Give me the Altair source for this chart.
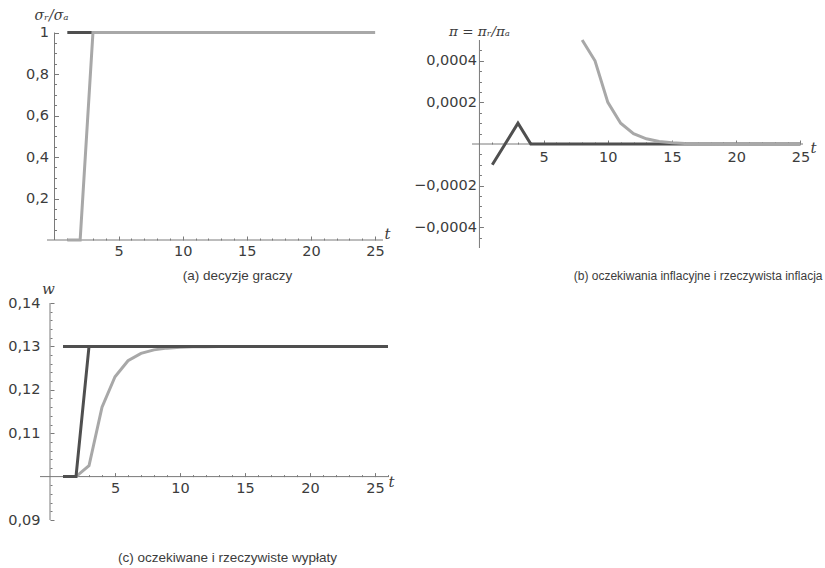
import altair as alt
import pandas as pd

# ---------------- data ----------------
# (a) decyzje graczy
t_a = [1, 2, 3, 4, 5, 6, 7, 8, 9, 10, 11, 12, 13, 14, 15, 16, 17, 18, 19, 20, 21, 22, 23, 24, 25]
a_dark = [1, 1, 1, 1, 1, 1, 1, 1, 1, 1, 1, 1, 1, 1, 1, 1, 1, 1, 1, 1, 1, 1, 1, 1, 1]
a_gray = [0, 0, 1, 1, 1, 1, 1, 1, 1, 1, 1, 1, 1, 1, 1, 1, 1, 1, 1, 1, 1, 1, 1, 1, 1]

# (b) oczekiwania inflacyjne i rzeczywista inflacja
t_b = [1, 2, 3, 4, 5, 6, 7, 8, 9, 10, 11, 12, 13, 14, 15, 16, 17, 18, 19, 20, 21, 22, 23, 24, 25]
b_dark = [-0.0001, 0.0, 0.0001, 0.0, 0.0, 0.0, 0.0, 0.0, 0.0, 0.0, 0.0, 0.0, 0.0,
          0.0, 0.0, 0.0, 0.0, 0.0, 0.0, 0.0, 0.0, 0.0, 0.0, 0.0, 0.0]
t_b_gray = [8, 9, 10, 11, 12, 13, 14, 15, 16, 17, 18, 19, 20, 21, 22, 23, 24, 25]
b_gray = [0.0008, 0.0004, 0.0002, 0.0001, 0.00005, 0.000025, 0.000012, 0.000006,
          0.000003, 0.0000015, 0.0000008, 0.0000004, 0.0000002, 0.0000001, 0.0, 0.0, 0.0, 0.0]

# (c) oczekiwane i rzeczywiste wypłaty
t_c = [1, 2, 3, 4, 5, 6, 7, 8, 9, 10, 11, 12, 13, 14, 15, 16, 17, 18, 19, 20, 21, 22, 23, 24, 25, 26]
c_flat = [0.13, 0.13, 0.13, 0.13, 0.13, 0.13, 0.13, 0.13, 0.13, 0.13, 0.13, 0.13, 0.13,
          0.13, 0.13, 0.13, 0.13, 0.13, 0.13, 0.13, 0.13, 0.13, 0.13, 0.13, 0.13, 0.13]
c_rise = [0.10, 0.10, 0.13, 0.13, 0.13, 0.13, 0.13, 0.13, 0.13, 0.13, 0.13, 0.13, 0.13,
          0.13, 0.13, 0.13, 0.13, 0.13, 0.13, 0.13, 0.13, 0.13, 0.13, 0.13, 0.13, 0.13]
c_gray = [0.100, 0.100, 0.1025, 0.116, 0.123, 0.1267, 0.1284, 0.1292, 0.1296, 0.1298,
          0.1299, 0.1299, 0.1300, 0.1300, 0.1300, 0.1300, 0.1300, 0.1300, 0.1300, 0.1300,
          0.1300, 0.1300, 0.1300, 0.1300, 0.1300, 0.1300]

# tick values
x_major = [5, 10, 15, 20, 25]
a_x_minor = [1, 2, 3, 4, 6, 7, 8, 9, 11, 12, 13, 14, 16, 17, 18, 19, 21, 22, 23, 24]
c_x_minor = a_x_minor + [26]
a_y_major = [0.2, 0.4, 0.6, 0.8, 1.0]
a_y_minor = [0.05, 0.1, 0.15, 0.25, 0.3, 0.35, 0.45, 0.5, 0.55, 0.65, 0.7, 0.75, 0.85, 0.9, 0.95]
b_y_major = [-0.0004, -0.0002, 0.0002, 0.0004]
b_y_minor = [-0.00045, -0.00035, -0.0003, -0.00025, -0.00015, -0.0001, -0.00005,
             0.00005, 0.0001, 0.00015, 0.00025, 0.0003, 0.00035, 0.00045]
c_y_major = [0.09, 0.11, 0.12, 0.13, 0.14]
c_y_minor = [0.092, 0.094, 0.096, 0.098, 0.102, 0.104, 0.106, 0.108, 0.112, 0.114, 0.116,
             0.118, 0.122, 0.124, 0.126, 0.128, 0.132, 0.134, 0.136, 0.138]

captions = ["(a) decyzje graczy",
            "(b) oczekiwania inflacyjne i rzeczywista inflacja",
            "(c) oczekiwane i rzeczywiste wypłaty"]
y_titles = ["σᵣ/σₐ", "π = πᵣ/πₐ", "w"]

# ---------------- style ----------------
W, H = 825, 568
DARK = "#4f4f4f"
GRAY = "#a8a8a8"
AXC = "#7a7a7a"
TXT = "#3c3c3c"
LFONT = "DejaVu Sans"
CFONT = "Liberation Sans"
TFONT = "DejaVu Serif"
TM, TMIN = 4, 2  # tick lengths (drawn inward)


def panel(series, xdom, xrng, ydom, yrng, ycross, xmaj, xmin, ymaj, ymin, yfmt,
          ylabpad, xlabpad, ytitle, ytitle_xy, ytitle_size, xtitle_xy,
          caption, caption_xy, caption_size, caption_align):
    xs = alt.Scale(domain=xdom, range=xrng, nice=False, zero=False, clamp=True)
    ys = alt.Scale(domain=ydom, range=yrng, nice=False, zero=False, clamp=True)
    # pixel position of the crossing axes
    x0 = xrng[0] + (0 - xdom[0]) / (xdom[1] - xdom[0]) * (xrng[1] - xrng[0])
    y0 = yrng[0] + (ycross - ydom[0]) / (ydom[1] - ydom[0]) * (yrng[1] - yrng[0])

    common = dict(domain=False, grid=False, tickColor=AXC, tickWidth=1,
                  labelFont=LFONT, labelFontSize=14.5, labelColor=TXT,
                  labelFlush=False, labelOverlap=False, labelBound=False)
    nolab = {k: v for k, v in common.items() if not k.startswith("label")}

    ax_major = alt.Axis(orient="bottom", offset=(y0 - TM) - H, values=xmaj, tickSize=TM,
                        labelPadding=xlabpad, format="d",
                        title="t", titleFont=TFONT, titleFontStyle="italic",
                        titleFontWeight="normal", titleFontSize=15, titleColor=TXT,
                        titleAngle=0, titleAlign="center", titleBaseline="middle",
                        titleX=xtitle_xy[0], titleY=xtitle_xy[1] - (y0 - TM), **common)
    ax_minor = alt.Axis(orient="bottom", offset=(y0 - TMIN) - H, values=xmin,
                        tickSize=TMIN, labels=False,
                        title=caption, titleFont=CFONT, titleFontWeight="normal",
                        titleFontSize=caption_size, titleColor=TXT, titleAngle=0,
                        titleAlign=caption_align, titleBaseline="middle", titleLimit=1000,
                        titleX=caption_xy[0], titleY=caption_xy[1] - (y0 - TMIN), **nolab)
    ay_major = alt.Axis(orient="left", offset=-(x0 + TM), values=ymaj, tickSize=TM,
                        labelPadding=ylabpad,
                        labelExpr=f"replace(format(datum.value, '{yfmt}'), '.', ',')",
                        title=ytitle, titleFont=TFONT, titleFontStyle="italic",
                        titleFontWeight="normal", titleFontSize=ytitle_size, titleColor=TXT,
                        titleAngle=0, titleAlign="center", titleBaseline="middle",
                        titleLimit=1000,
                        titleX=ytitle_xy[0] - (x0 + TM), titleY=ytitle_xy[1], **common)
    ay_minor = alt.Axis(orient="left", offset=-(x0 + TMIN), values=ymin, tickSize=TMIN,
                        labels=False, title=None, **nolab)

    one = pd.DataFrame({"k": [0]})
    rule_x = alt.Chart(one).mark_rule(color=AXC, strokeWidth=1).encode(
        x=alt.X(datum=xdom[0], type="quantitative", scale=xs, axis=ax_minor),
        x2=alt.X2(datum=xdom[1]),
        y=alt.Y(datum=ycross, type="quantitative", scale=ys, axis=ay_minor),
    )
    rule_y = alt.Chart(one).mark_rule(color=AXC, strokeWidth=1).encode(
        x=alt.X(datum=0, type="quantitative", scale=xs, axis=None),
        y=alt.Y(datum=ydom[0], type="quantitative", scale=ys, axis=None),
        y2=alt.Y2(datum=ydom[1]),
    )
    layers = [rule_x, rule_y]
    for i, (ts, vs, col) in enumerate(series):
        df = pd.DataFrame({"t": ts, "v": vs})
        layers.append(
            alt.Chart(df).mark_line(color=col, strokeWidth=3, strokeCap="butt",
                                    strokeJoin="miter").encode(
                x=alt.X("t:Q", scale=xs, axis=ax_major if i == 0 else None),
                y=alt.Y("v:Q", scale=ys, axis=ay_major if i == 0 else None),
            )
        )
    return alt.layer(*layers).resolve_axis(x="independent", y="independent")


pa = panel(
    series=[(t_a, a_dark, DARK), (t_a, a_gray, GRAY)],
    xdom=[-0.585, 25.62], xrng=[47, 383], ydom=[0, 1], yrng=[240, 32.5], ycross=0,
    xmaj=x_major, xmin=a_x_minor, ymaj=a_y_major, ymin=a_y_minor, yfmt=".1~f",
    ylabpad=6, xlabpad=4, ytitle=y_titles[0], ytitle_xy=(51, 15), ytitle_size=14,
    xtitle_xy=(387, 233),
    caption=captions[0], caption_xy=(237, 275), caption_size=13.5, caption_align="center",
)
pb = panel(
    series=[(t_b, b_dark, DARK), (t_b_gray, b_gray, GRAY)],
    xdom=[-0.58, 25.2], xrng=[472, 803], ydom=[-0.0005, 0.0005], yrng=[248, 40], ycross=0,
    xmaj=x_major, xmin=a_x_minor, ymaj=b_y_major, ymin=b_y_minor, yfmt=".4f",
    ylabpad=3, xlabpad=6, ytitle=y_titles[1], ytitle_xy=(479, 31), ytitle_size=13.5,
    xtitle_xy=(813, 147),
    caption=captions[1], caption_xy=(822, 275), caption_size=12, caption_align="right",
)
pc = panel(
    series=[(t_c, c_gray, GRAY), (t_c, c_flat, DARK), (t_c, c_rise, DARK)],
    xdom=[-0.77, 26], xrng=[40, 388], ydom=[0.09, 0.14], yrng=[520, 303], ycross=0.10,
    xmaj=x_major, xmin=c_x_minor, ymaj=c_y_major, ymin=c_y_minor, yfmt=".2f",
    ylabpad=10, xlabpad=5, ytitle=y_titles[2], ytitle_xy=(48, 288), ytitle_size=15,
    xtitle_xy=(391, 481),
    caption=captions[2], caption_xy=(227, 557), caption_size=13.5, caption_align="center",
)

chart = (
    alt.layer(pa, pb, pc)
    .resolve_scale(x="independent", y="independent")
    .properties(width=W, height=H, autosize=alt.AutoSizeParams(type="none"), padding=0,
                background="white")
    .configure_view(stroke=None)
)

chart.save("out.html", embed_options={"renderer": "svg", "actions": False})
